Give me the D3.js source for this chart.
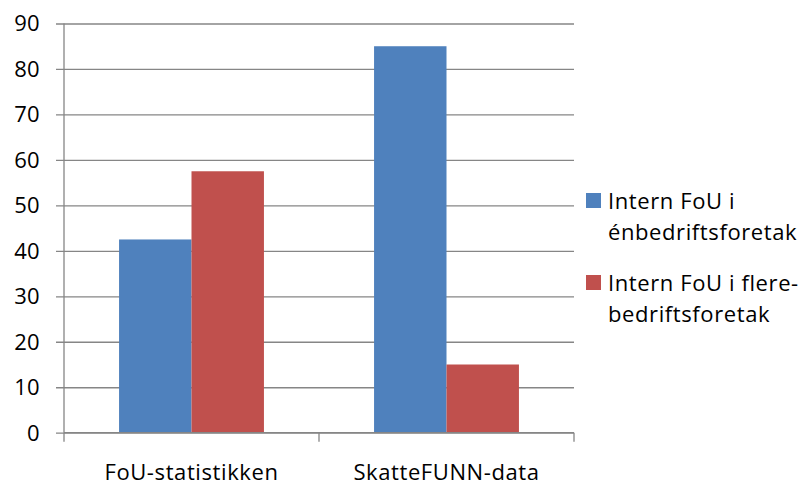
<!DOCTYPE html>
<html>
<head>
<meta charset="utf-8">
<script src="https://cdn.jsdelivr.net/npm/d3@7"></script>
<style>
  html, body { margin: 0; padding: 0; background: #fff; }
  svg { display: block; }
  text { font-family: "Open Sans", "Liberation Sans", Arial, sans-serif; fill: #000; font-size: 22px; }
  .wide { letter-spacing: 0.6px; }
</style>
</head>
<body>
<svg id="chart" width="800" height="486"></svg>
<script>
// Categories, series and axis ticks
const categories = ["FoU-statistikken", "SkatteFUNN-data"];
const seriesNames = ["Intern FoU i énbedriftsforetak", "Intern FoU i flere-bedriftsforetak"];
const legendLines = [["Intern FoU i", "énbedriftsforetak"], ["Intern FoU i flere-", "bedriftsforetak"]];
const enbedrift = [42.5, 85];
const flerebedrift = [57.5, 15];
const yTicks = [0, 10, 20, 30, 40, 50, 60, 70, 80, 90];
const colors = ["#4F81BD", "#C0504D"];

const series = [enbedrift, flerebedrift];

const svg = d3.select("#chart");
const margin = { left: 64, right: 226, top: 23.5, bottom: 53.3 };
const W = 800, H = 486;
const x0 = margin.left, x1 = W - margin.right;
const yTop = margin.top, yBot = H - margin.bottom;

const x = d3.scaleBand().domain(categories).range([x0, x1]).paddingInner(0).paddingOuter(0);
const xs = d3.scaleBand().domain(d3.range(series.length)).range([0, x.bandwidth()]).paddingInner(0).paddingOuter(0.76);
const y = d3.scaleLinear().domain([0, 90]).range([yBot, yTop]);

const gridColor = "#868686";

// Horizontal gridlines with tick marks on the left
svg.append("g")
  .attr("transform", `translate(${x0},0)`)
  .call(d3.axisLeft(y).tickValues(yTicks).tickSize(-(x1 - x0)).tickFormat(""))
  .call(g => g.select(".domain").remove())
  .call(g => g.selectAll("line").attr("stroke", gridColor).attr("stroke-width", 1.3).attr("x1", x1 - x0).attr("x2", -8));

// Bars
const groups = svg.append("g").selectAll("g")
  .data(categories)
  .join("g")
  .attr("transform", d => `translate(${x(d)},0)`);

groups.selectAll("rect")
  .data((d, i) => series.map((s, k) => ({ k, v: s[i] })))
  .join("rect")
  .attr("x", d => xs(d.k))
  .attr("width", xs.bandwidth())
  .attr("y", d => y(d.v))
  .attr("height", d => y(0) - y(d.v))
  .attr("fill", d => colors[d.k]);

// Y axis line
svg.append("line")
  .attr("x1", x0).attr("x2", x0).attr("y1", yTop).attr("y2", yBot)
  .attr("stroke", gridColor).attr("stroke-width", 1.3);

// Y tick labels
svg.append("g").selectAll("text")
  .data(yTicks)
  .join("text")
  .attr("x", 39.5)
  .attr("y", d => y(d))
  .attr("dy", "0.36em")
  .attr("text-anchor", "end")
  .text(d => d);

// X axis with category boundary ticks
const xTicks = [x0, ...categories.map(c => x(c) + x.bandwidth())];
svg.append("line")
  .attr("x1", x0).attr("x2", x1).attr("y1", yBot).attr("y2", yBot)
  .attr("stroke", gridColor).attr("stroke-width", 1.3);
svg.append("g").selectAll("line")
  .data(xTicks)
  .join("line")
  .attr("x1", d => d).attr("x2", d => d)
  .attr("y1", yBot).attr("y2", yBot + 9)
  .attr("stroke", gridColor).attr("stroke-width", 1.3);

// Category labels
svg.append("g").selectAll("text")
  .data(categories)
  .join("text")
  .attr("class", "wide")
  .attr("x", d => x(d) + x.bandwidth() / 2)
  .attr("y", 479.5)
  .attr("text-anchor", "middle")
  .text(d => d);

// Legend
const legend = svg.append("g").selectAll("g")
  .data(seriesNames)
  .join("g")
  .attr("transform", (d, i) => `translate(586,${193 + i * 82})`);
legend.append("rect")
  .attr("width", 15).attr("height", 15)
  .attr("fill", (d, i) => colors[i]);
legend.append("text")
  .attr("class", "wide")
  .attr("x", 22)
  .attr("y", 16)
  .selectAll("tspan")
  .data((d, i) => legendLines[i])
  .join("tspan")
  .attr("x", 22)
  .attr("dy", (d, j) => j === 0 ? 0 : 31)
  .text(d => d);
</script>
</body>
</html>
